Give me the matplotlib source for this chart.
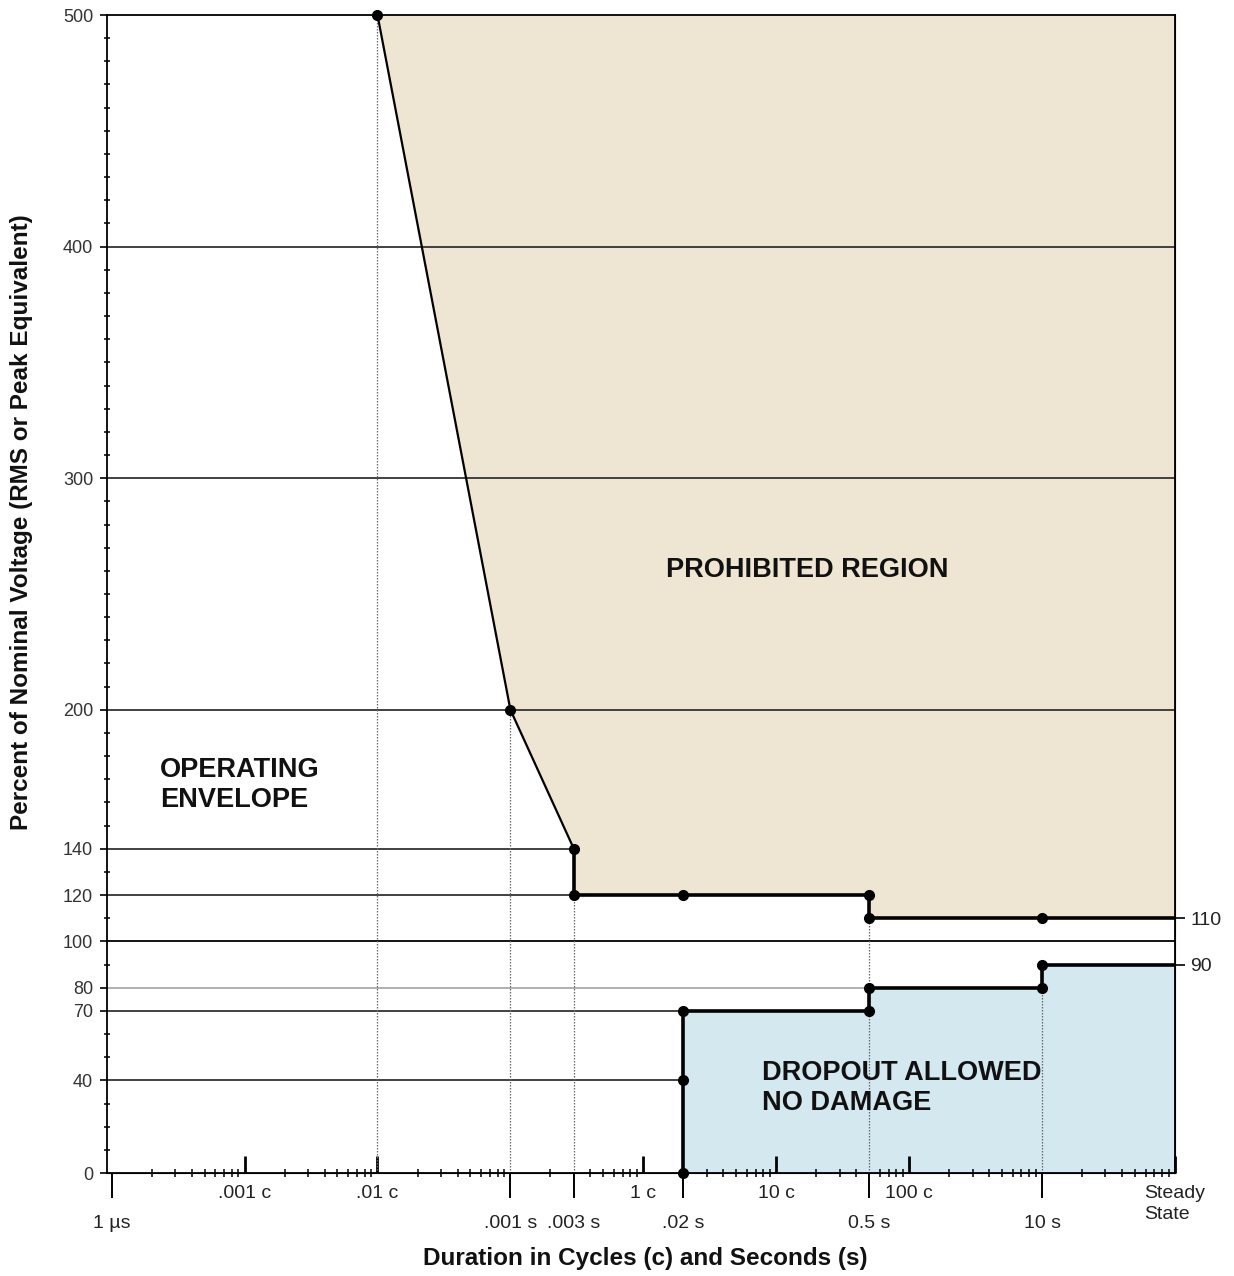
import numpy as np
import matplotlib
matplotlib.use('Agg')
import matplotlib.pyplot as plt
from matplotlib.ticker import LogLocator, NullFormatter, NullLocator, MultipleLocator

plt.rcParams['font.family'] = ['Liberation Sans', 'DejaVu Sans']

# ITIC curve data (duration in seconds, percent of nominal voltage)
upper_t = [1e-4, 1e-3, 3e-3, 3e-3, 0.02, 0.5, 0.5, 10, 100]
upper_v = [500, 200, 140, 120, 120, 120, 110, 110, 110]
lower_t = [0.02, 0.02, 0.02, 0.5, 0.5, 10, 10, 100]
lower_v = [0, 40, 70, 70, 80, 80, 90, 90]

# reference lines
grid_levels = [400, 300, 200, 140, 120, 100, 80, 70, 40]
grid_ends = [100, 100, 100, 3e-3, 3e-3, 100, 0.5, 0.02, 0.02]
drop_t = [1e-4, 1e-3, 3e-3, 0.5, 10]
drop_top = [500, 200, 120, 110, 80]

# axis labels
sec_ticks = [1e-6, 1e-3, 3e-3, 0.02, 0.5, 10]
sec_labels = ['1 µs', '.001 s', '.003 s', '.02 s', '0.5 s', '10 s']
cyc_ticks = [1e-5, 1e-4, 1e-2, 1e-1, 1, 100]
cyc_labels = ['.001 c', '.01 c', '1 c', '10 c', '100 c', 'Steady\nState']
y_ticks = [0, 40, 70, 80, 100, 120, 140, 200, 300, 400, 500]
right_ticks = [90, 110]

tan = '#eee6d2'
blue = '#d3e8ef'

fig = plt.figure(figsize=(12.34, 12.76), dpi=100)
ax = fig.add_axes([107/1234, 1 - 1173/1276, 1068/1234, 1158/1276])
ax.set_xscale('log')
x0 = 10**-6.035
ax.set_xlim(x0, 100)
ax.set_ylim(0, 500)

# shaded regions
ax.fill(upper_t + [100], upper_v + [500], color=tan, lw=0, zorder=0)
ax.fill(lower_t + [100], lower_v + [0], color=blue, lw=0, zorder=0)

# horizontal lines
for lev, end in zip(grid_levels, grid_ends):
    c = '#aaaaaa' if lev == 80 else ('black' if lev == 100 else '#333333')
    ax.hlines(lev, x0, end, colors=c, lw=1.3, zorder=1)

# dotted drop lines
ax.vlines(drop_t, 0, drop_top, colors='#666666', lw=0.9,
          linestyles=(0, (1.2, 1.2)), zorder=1)

# the curves
ax.plot(upper_t[:3], upper_v[:3], color='black', lw=1.6, zorder=3)
ax.plot(upper_t[2:], upper_v[2:], color='black', lw=2.6, zorder=3)
ax.plot(lower_t, lower_v, color='black', lw=2.6, zorder=3)
ax.plot(upper_t[:-1], upper_v[:-1], 'o', color='black', ms=7, zorder=4, clip_on=False)
ax.plot(lower_t[:-1], lower_v[:-1], 'o', color='black', ms=7, zorder=4, clip_on=False)

for s in ax.spines.values():
    s.set_linewidth(1.3)

# x axis: seconds below, log minor ticks across the line
ax.set_xticks(sec_ticks, sec_labels)
ax.tick_params(axis='x', which='major', direction='out', length=18, width=1.4,
               pad=12, labelsize=14, labelcolor='#222222')
ax.xaxis.set_minor_locator(LogLocator(base=10, subs=np.arange(2, 10), numticks=30))
ax.xaxis.set_minor_formatter(NullFormatter())
ax.tick_params(axis='x', which='minor', direction='inout', length=6, width=1.1)

# cycles on a second axis at the same place
cx = ax.secondary_xaxis('bottom')
cx.set_xticks(cyc_ticks, cyc_labels)
cx.xaxis.set_minor_locator(NullLocator())
cx.tick_params(axis='x', which='major', direction='in', length=12, width=2,
               pad=9, labelsize=14, labelcolor='#222222')
for lab in cx.get_xticklabels():
    lab.set_linespacing(1.25)
    lab.set_multialignment('left')

# y axis
ax.set_yticks(y_ticks, [str(v) for v in y_ticks])
ax.tick_params(axis='y', which='major', direction='out', length=5, width=1.2,
               pad=5, labelsize=13, labelcolor='#333333')
ax.yaxis.set_minor_locator(MultipleLocator(10))
ax.tick_params(axis='y', which='minor', direction='inout', length=5, width=1.1)

ry = ax.secondary_yaxis('right')
ry.set_yticks(right_ticks, [str(v) for v in right_ticks])
ry.yaxis.set_minor_locator(NullLocator())
ry.tick_params(direction='out', length=7, width=1.2, pad=4, labelsize=14,
               labelcolor='#222222')

# region labels
ax.text(0.656, 0.521, 'PROHIBITED REGION', transform=ax.transAxes,
        ha='center', va='center', fontsize=19.5, fontweight='bold', color='#111111')
ax.text(0.0496, 0.335, 'OPERATING\nENVELOPE', transform=ax.transAxes,
        ha='left', va='center', fontsize=19.5, fontweight='bold', color='#111111',
        linespacing=1.2)
ax.text(0.613, 0.0734, 'DROPOUT ALLOWED\nNO DAMAGE', transform=ax.transAxes,
        ha='left', va='center', fontsize=19.5, fontweight='bold', color='#111111',
        linespacing=1.2)

fig.text(645/1234, 1 - 1258/1276, 'Duration in Cycles (c) and Seconds (s)',
         ha='center', va='center', fontsize=17.5, fontweight='bold', color='#111111')
fig.text(22/1234, 1 - 522/1276, 'Percent of Nominal Voltage (RMS or Peak Equivalent)',
         ha='center', va='center', rotation=90, fontsize=17.5, fontweight='bold',
         color='#111111')

fig.savefig('out.png', dpi=100)
